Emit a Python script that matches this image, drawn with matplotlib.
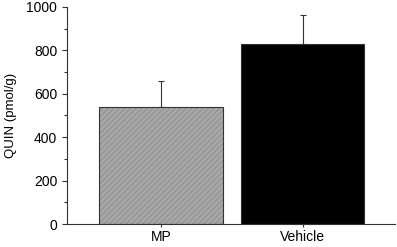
import numpy as np
import matplotlib.pyplot as plt
from matplotlib.ticker import MultipleLocator

plt.rcParams['font.family'] = ['Liberation Sans', 'DejaVu Sans']

groups = ['MP', 'Vehicle']
means = [540, 828]
sem = [120, 136]

x = np.arange(len(groups))

fig = plt.figure(figsize=(3.97, 2.47), dpi=100)
ax = fig.add_axes([0.169, 0.093, 0.826, 0.879])

# MP bar: grey with fine hatching, dark outline
ax.bar(x[0], means[0], width=0.87, color='#a8a8a8', edgecolor='#959595',
       hatch='//////', linewidth=0, zorder=2)
ax.bar(x[0], means[0], width=0.87, fill=False, edgecolor='#333333',
       linewidth=0.8, zorder=3)
ax.bar(x[1], means[1], width=0.87, color='black', edgecolor='#333333',
       linewidth=0.8, zorder=2)

ax.errorbar(x, means, yerr=[[0, 0], sem], fmt='none', ecolor='#333333',
            elinewidth=0.8, capsize=2.5, capthick=0.8, zorder=1)

ax.set_xlim(-0.66, 1.65)
ax.set_ylim(0, 1000)
ax.set_xticks(x)
ax.set_xticklabels(groups, fontsize=10)
ax.yaxis.set_major_locator(MultipleLocator(200))
ax.yaxis.set_minor_locator(MultipleLocator(100))
ax.tick_params(axis='y', labelsize=10, length=3.5, width=0.8, color='#333333')
ax.tick_params(axis='y', which='minor', length=2, width=0.8, color='#333333')
ax.tick_params(axis='x', length=2.5, width=0.8, color='#333333', pad=2)
ax.set_ylabel('QUIN (pmol/g)', fontsize=9.5, labelpad=7)

for s in ['top', 'right']:
    ax.spines[s].set_visible(False)
for s in ['left', 'bottom']:
    ax.spines[s].set_linewidth(0.8)
    ax.spines[s].set_color('#333333')

fig.savefig('out.png', dpi=100)
